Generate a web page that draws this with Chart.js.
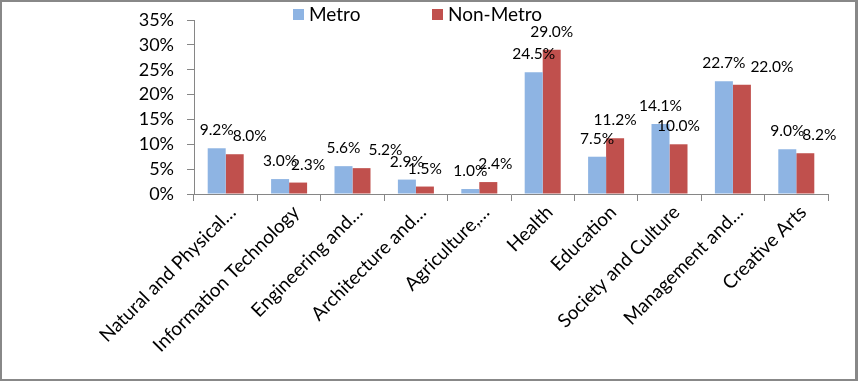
<!DOCTYPE html>
<html>
<head>
<meta charset="utf-8">
<script src="https://cdn.jsdelivr.net/npm/chart.js@4.4.1/dist/chart.umd.min.js"></script>
<style>
  html, body { margin: 0; padding: 0; background: #ffffff; }
  #c { display: block; }
</style>
</head>
<body>
<canvas id="c" width="858" height="381"></canvas>
<script>
const categories = [
  "Natural and Physical…",
  "Information Technology",
  "Engineering and…",
  "Architecture and…",
  "Agriculture,…",
  "Health",
  "Education",
  "Society and Culture",
  "Management and…",
  "Creative Arts"
];
const metroValues    = [9.2, 3.0, 5.6, 2.9, 1.0, 24.5, 7.5, 14.1, 22.7, 9.0];
const nonMetroValues = [8.0, 2.3, 5.2, 1.5, 2.4, 29.0, 11.2, 10.0, 22.0, 8.2];
const yTicks = [0, 5, 10, 15, 20, 25, 30, 35];

// horizontal nudges (px) of the value labels, as placed in the reference
const labelNudge = [
  [0, 0, 0, 0, 0, 0, 0, 0, 0, 0],
  [15, 10, 24, 0, 7, 0, 0, 0, 30, 14]
];

const FONT = "Lato, 'Open Sans', sans-serif";
const AXIS_GRAY = "#868686";

const framePlugin = {
  id: "frame",
  beforeDraw(chart) {
    const ctx = chart.ctx;
    ctx.save();
    ctx.fillStyle = "#ffffff";
    ctx.fillRect(0, 0, chart.width, chart.height);
    ctx.restore();
  },
  afterDraw(chart) {
    const ctx = chart.ctx, w = chart.width, h = chart.height;
    ctx.save();
    ctx.fillStyle = "#888888";
    ctx.fillRect(0, 0, w, 2);
    ctx.fillRect(0, 0, 2, h);
    ctx.fillRect(w - 3, 0, 3, h);
    ctx.fillRect(0, h - 2, w, 2);
    const items = [
      { x: 293, text: "Metro", color: "#8EB4E3" },
      { x: 432, text: "Non-Metro", color: "#C0504D" }
    ];
    ctx.font = "19px " + FONT;
    ctx.textBaseline = "middle";
    ctx.textAlign = "left";
    items.forEach(it => {
      ctx.fillStyle = it.color;
      ctx.fillRect(it.x, 9, 11, 11);
      ctx.fillStyle = "#000000";
      ctx.fillText(it.text, it.x + 16, 15);
    });
    ctx.restore();
  }
};

const labelPlugin = {
  id: "barLabels",
  afterDatasetsDraw(chart) {
    const ctx = chart.ctx;
    ctx.save();
    ctx.font = "15.5px " + FONT;
    ctx.fillStyle = "#000000";
    ctx.textAlign = "center";
    ctx.textBaseline = "middle";
    chart.data.datasets.forEach((ds, di) => {
      const meta = chart.getDatasetMeta(di);
      meta.data.forEach((bar, i) => {
        const v = ds.data[i];
        ctx.fillText(v.toFixed(1) + "%", bar.x + labelNudge[di][i], bar.y - 18);
      });
    });
    ctx.restore();
  }
};

new Chart(document.getElementById("c"), {
  type: "bar",
  data: {
    labels: categories,
    datasets: [
      { label: "Metro", data: metroValues, backgroundColor: "#8EB4E3",
        categoryPercentage: 0.568, barPercentage: 1.0 },
      { label: "Non-Metro", data: nonMetroValues, backgroundColor: "#C0504D",
        categoryPercentage: 0.568, barPercentage: 1.0 }
    ]
  },
  options: {
    responsive: false,
    animation: false,
    devicePixelRatio: 1,
    layout: { padding: { left: 0, right: 30, top: 20, bottom: 0 } },
    plugins: {
      legend: { display: false },
      tooltip: { enabled: false }
    },
    scales: {
      x: {
        offset: true,
        grid: {
          display: true, offset: true, drawOnChartArea: false,
          drawTicks: true, tickLength: 7, color: AXIS_GRAY, lineWidth: 1
        },
        border: { display: true, color: AXIS_GRAY, width: 1 },
        ticks: {
          autoSkip: false, maxRotation: 45, minRotation: 45,
          padding: 0, labelOffset: 7, color: "#000000",
          font: { family: FONT, size: 19 }
        },
        afterFit(scale) { scale.height = 187; scale.paddingTop = 0; scale.paddingBottom = 0; }
      },
      y: {
        min: 0, max: 35,
        afterBuildTicks(scale) { scale.ticks = yTicks.map(v => ({ value: v })); },
        grid: {
          display: true, drawOnChartArea: false, drawTicks: true,
          tickLength: 7, color: AXIS_GRAY, lineWidth: 1
        },
        border: { display: true, color: AXIS_GRAY, width: 1 },
        ticks: {
          autoSkip: false, padding: 13, color: "#000000",
          font: { family: FONT, size: 18 },
          callback: v => v + "%"
        },
        afterFit(scale) { scale.width = 194; scale.paddingTop = 0; scale.paddingBottom = 0; }
      }
    }
  },
  plugins: [framePlugin, labelPlugin]
});
</script>
</body>
</html>
